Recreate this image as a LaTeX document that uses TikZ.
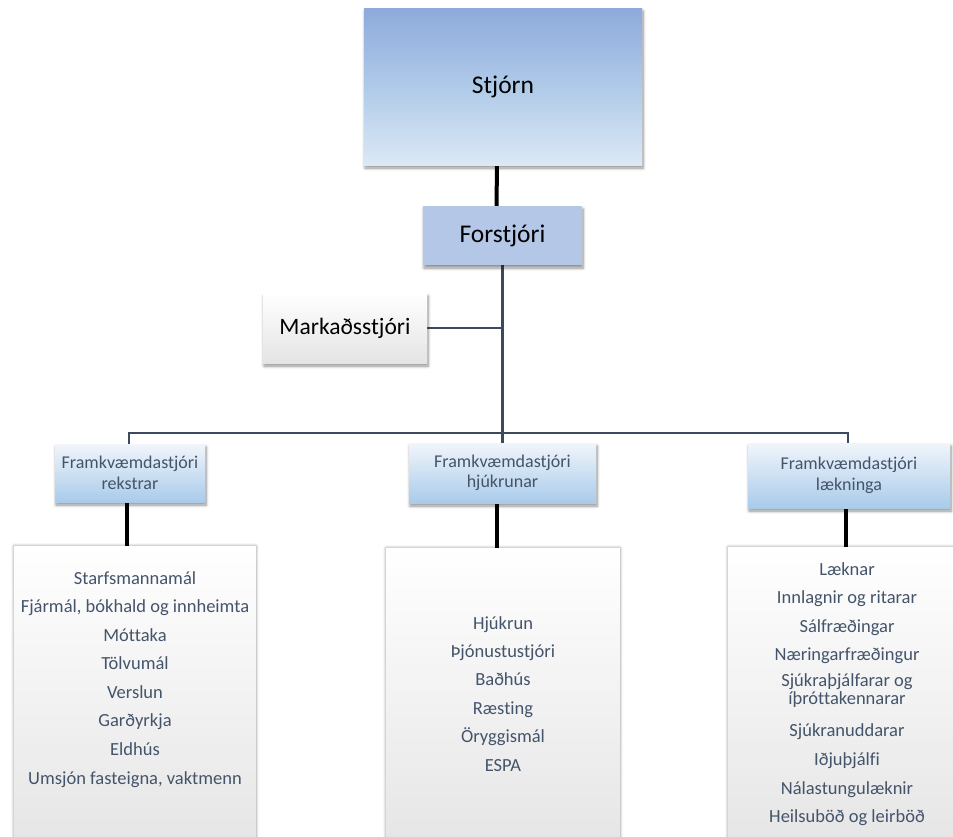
\documentclass[tikz,border=0pt]{standalone}
\usepackage{fontspec}
\setmainfont[Ligatures=CommonOff]{Carlito}
\usetikzlibrary{shadows.blur}
\pgfdeclarelayer{bg}
\pgfsetlayers{bg,main}
\definecolor{slate}{HTML}{44546A}
\definecolor{linec}{HTML}{3B4A5E}
\definecolor{topblue}{HTML}{8EAADB}
\definecolor{midblue}{HTML}{AFCAE8}
\definecolor{lowblue}{HTML}{DCE8F5}
\definecolor{forblue}{HTML}{B4C7E7}
\definecolor{lvtop}{HTML}{F1F5FB}
\definecolor{lvbot}{HTML}{A9CBEA}
\definecolor{greybot}{HTML}{E4E4E4}
\begin{document}
\begin{tikzpicture}[x=1pt,y=-1pt,
  box/.style={rectangle, inner sep=0pt, align=center},
  shad/.style={blur shadow={shadow blur steps=6, shadow xshift=1pt, shadow yshift=-3pt, shadow opacity=45, shadow blur radius=3pt}},
  sideshad/.style={blur shadow={shadow blur steps=6, shadow xshift=0pt, shadow yshift=0pt, shadow opacity=40, shadow blur radius=3pt}},
  lvtwo/.style={box, shad, top color=lvtop, bottom color=lvbot, text=slate, font=\fontsize{18}{20.5}\selectfont},
  lowbox/.style={box, sideshad, top color=white, bottom color=greybot},
  item/.style={inner sep=0pt, anchor=base, text=slate, font=\fontsize{18.5}{22}\selectfont},
  blk/.style={draw=black, line width=4pt},
  sl/.style={draw=linec, line width=2.8pt}]
\path[use as bounding box] (0,0) rectangle (953,836);
\clip (0,0) rectangle (953,836);

% top level
\node[box, shad, minimum width=278pt, minimum height=157pt, top color=topblue, bottom color=lowblue, middle color=midblue, font=\fontsize{25.5}{30}\selectfont] (stjorn) at (503,86.5) {Stjórn};
\node[box, shad, minimum width=159pt, minimum height=59pt, fill=forblue, font=\fontsize{25.5}{30}\selectfont] (forstjori) at (502.5,235.5) {Forstjóri};
\node[box, shad, minimum width=164pt, minimum height=70pt, top color=white, bottom color=greybot, font=\fontsize{23.5}{28}\selectfont] (marka) at (345,328) {Markaðsstjóri};

% second level
\node[lvtwo, minimum width=150pt, minimum height=58pt] (fr) at (130,473) {Framkvæmdastjóri\\rekstrar};
\node[lvtwo, minimum width=187pt, minimum height=60pt] (fh) at (502.5,473) {Framkvæmdastjóri\\hjúkrunar};
\node[lvtwo, minimum width=202pt, minimum height=65pt] (fl) at (849,475.5) {Framkvæmdastjóri\\lækninga};

% bottom boxes
\node[lowbox, minimum width=242pt, minimum height=314pt] (lbox) at (135,703) {};
\node[lowbox, minimum width=234pt, minimum height=312pt] (mbox) at (503,704) {};
\node[lowbox, minimum width=238pt, minimum height=313pt] (rbox) at (847,703.5) {};

\coordinate (bus) at (503,433);

% connectors
\begin{pgfonlayer}{bg}
\draw[blk] ([xshift=-6pt]stjorn.south) -- ([xshift=-6pt]forstjori.north);
\draw[sl] (forstjori.south) -- (fh.north);
\draw[sl] (marka.east) -- (marka.east -| forstjori.south);
\draw[sl] ([xshift=-1pt]fr.north) |- (bus) -| ([xshift=-1pt]fl.north);
\draw[blk] ([xshift=-3pt]fr.south) -- ([xshift=-3pt]fr.south |- lbox.north);
\draw[blk] ([xshift=-5.5pt]fh.south) -- ([xshift=-5.5pt]fh.south |- mbox.north);
\draw[blk] ([xshift=-3pt]fl.south) -- ([xshift=-3pt]fl.south |- rbox.north);
\end{pgfonlayer}

% items
\foreach \t [count=\i] in {Starfsmannamál, {Fjármál, bókhald og innheimta}, Móttaka, Tölvumál, Verslun, Garðyrkja, Eldhús, {Umsjón fasteigna, vaktmenn}}
  \node[item] (l\i) at (135,{584+28.57*(\i-1)}) {\t};
\foreach \t [count=\i] in {Hjúkrun, Þjónustustjóri, Baðhús, Ræsting, Öryggismál, ESPA}
  \node[item] (m\i) at (503,{629+28.4*(\i-1)}) {\t};
\foreach \yy/\t [count=\i] in {575/Læknar, 603/Innlagnir og ritarar, 632/Sálfræðingar, 660/Næringarfræðingur, 686/Sjúkraþjálfarar og, 704/íþróttakennarar, 736/Sjúkranuddarar, 765/Iðjuþjálfi, 794/Nálastungulæknir, 822/Heilsuböð og leirböð}
  \node[item] (r\i) at (847,\yy) {\t};
\end{tikzpicture}
\end{document}
